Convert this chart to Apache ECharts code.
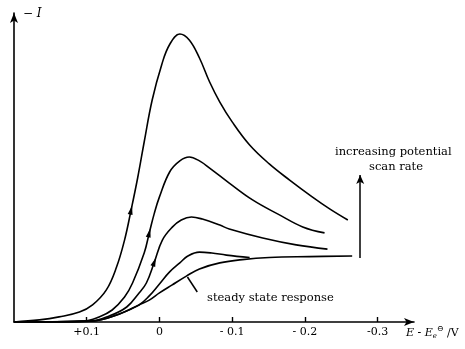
<!DOCTYPE html>
<html>
<head>
<meta charset="utf-8">
<script src="https://cdn.jsdelivr.net/npm/echarts@6/dist/echarts.min.js"></script>
<style>
  html, body { margin: 0; padding: 0; background: #fff; }
  #chart { width: 465px; height: 349px; }
</style>
</head>
<body>
<div id="chart"></div>
<script>
// Potential E - E0 (V) and current -I (arbitrary units) for each scan
const scanFastest = [[0.2,0],[0.165,0.07],[0.138,0.17],[0.11,0.33],[0.092,0.57],[0.073,1.07],[0.059,1.83],[0.048,2.73],[0.039,3.73],[0.03,4.8],[0.021,6.0],[0.01,7.4],[-0.003,8.57],[-0.014,9.25],[-0.028,9.6],[-0.041,9.4],[-0.055,8.8],[-0.069,8.0],[-0.083,7.33],[-0.1,6.67],[-0.124,5.9],[-0.151,5.27],[-0.179,4.73],[-0.21,4.17],[-0.234,3.77],[-0.259,3.4]];
const scanFast = [[0.2,0],[0.106,0.03],[0.083,0.17],[0.065,0.4],[0.048,0.83],[0.037,1.3],[0.021,2.3],[0.014,2.97],[0.007,3.63],[0.0,4.17],[-0.014,5.0],[-0.028,5.37],[-0.041,5.5],[-0.055,5.37],[-0.069,5.13],[-0.096,4.63],[-0.128,4.07],[-0.165,3.57],[-0.197,3.17],[-0.227,2.97]];
const scanMedium = [[0.2,0],[0.096,0.03],[0.069,0.2],[0.045,0.5],[0.028,0.97],[0.018,1.3],[0.007,2.0],[-0.004,2.73],[-0.018,3.17],[-0.03,3.4],[-0.044,3.5],[-0.059,3.43],[-0.083,3.23],[-0.096,3.1],[-0.142,2.8],[-0.188,2.57],[-0.231,2.43]];
const scanSlow = [[0.2,0],[0.094,0.03],[0.055,0.27],[0.028,0.57],[0.014,0.87],[0.0,1.27],[-0.014,1.67],[-0.028,1.97],[-0.039,2.2],[-0.055,2.33],[-0.072,2.3],[-0.092,2.23],[-0.124,2.15]];
const steadyState = [[0.2,0],[0.094,0.03],[0.055,0.27],[0.028,0.57],[0.014,0.73],[0.0,0.97],[-0.017,1.23],[-0.037,1.53],[-0.055,1.77],[-0.083,1.97],[-0.114,2.08],[-0.151,2.15],[-0.206,2.18],[-0.265,2.2]];

// Direction arrows on the rising branches: [curve, point index, rotation]
const scanArrows = [[scanFastest, 8, -12], [scanFast, 7, -14], [scanMedium, 6, -20]];

// "increasing potential scan rate" arrow and the steady-state pointer
const rateArrow = [[-0.276, 2.13], [-0.276, 4.9]];
const steadyPointer = [[-0.0385, 1.5], [-0.052, 1.0]];

const tickValues = [0.1, 0, -0.1, -0.2, -0.3];
const tickLabels = ['+0.1', '0', '- 0.1', '- 0.2', '-0.3'];

const ink = '#000';
const serif = '"DejaVu Serif", "Liberation Serif", serif';

const chart = echarts.init(document.getElementById('chart'), null, { renderer: 'canvas' });

function curve(data) {
  return {
    type: 'line', data: data, smooth: 0.4, symbol: 'none',
    lineStyle: { color: ink, width: 1.6 }, z: 3, silent: true
  };
}

const series = [scanFastest, scanFast, scanMedium, scanSlow, steadyState].map(curve);

series.push({
  type: 'scatter', data: [], silent: true,
  markPoint: {
    silent: true,
    data: scanArrows.map(([c, i, r]) => ({
      coord: c[i], symbol: 'triangle', symbolSize: [5, 9], symbolRotate: r,
      itemStyle: { color: ink }, label: { show: false }
    }))
  },
  markLine: {
    silent: true, animation: false,
    data: [
      [{ coord: rateArrow[0], symbol: 'none' }, { coord: rateArrow[1], symbol: 'arrow', symbolSize: [6, 9] }],
      [{ coord: steadyPointer[0], symbol: 'none' }, { coord: steadyPointer[1], symbol: 'none' }]
    ],
    lineStyle: { color: ink, width: 1.5, type: 'solid' },
    label: { show: false }
  }
});

chart.setOption({
  animation: false,
  grid: { left: 14, right: 51, top: 13, bottom: 27 },
  xAxis: {
    type: 'value', min: -0.35, max: 0.2, inverse: true,
    splitLine: { show: false },
    axisLine: { onZero: false, lineStyle: { color: ink, width: 1.6 }, symbol: ['none', 'arrow'], symbolSize: [6, 10] },
    axisTick: { show: true, inside: true, length: 5, customValues: tickValues, lineStyle: { color: ink, width: 1.4 } },
    axisLabel: {
      customValues: tickValues, margin: 5, color: ink,
      fontFamily: serif, fontSize: 11,
      formatter: v => tickLabels[tickValues.findIndex(t => Math.abs(t - v) < 1e-9)] ?? ''
    }
  },
  yAxis: {
    type: 'value', min: 0, max: 10.3,
    splitLine: { show: false },
    axisLine: { show: true, onZero: false, lineStyle: { color: ink, width: 1.6 }, symbol: ['none', 'arrow'], symbolSize: [6, 10] },
    axisTick: { show: false }, axisLabel: { show: false }
  },
  graphic: [
    { type: 'text', left: 23, top: 8, style: { text: '− I', font: 'italic 12px ' + serif, fill: ink } },
    { type: 'text', left: 207, top: 292, style: { text: 'steady state response', font: '11.5px ' + serif, fill: ink } },
    { type: 'text', left: 335, top: 146, style: { text: 'increasing potential', font: '11.5px ' + serif, fill: ink } },
    { type: 'text', left: 369, top: 161, style: { text: 'scan rate', font: '11.5px ' + serif, fill: ink } },
    {
      type: 'text', left: 406, top: 325,
      style: {
        rich: {
          it: { font: 'italic 11px ' + serif, fill: ink },
          sub: { font: 'italic 7px ' + serif, fill: ink, padding: [6, 0, 0, 0] },
          sup: { font: '8px ' + serif, fill: ink, padding: [0, 0, 8, 0] },
          rm: { font: '11px ' + serif, fill: ink }
        },
        text: '{it|E - E}{sub|e}{sup|⊖}{rm| /V}'
      }
    }
  ],
  series: series
});
</script>
</body>
</html>
